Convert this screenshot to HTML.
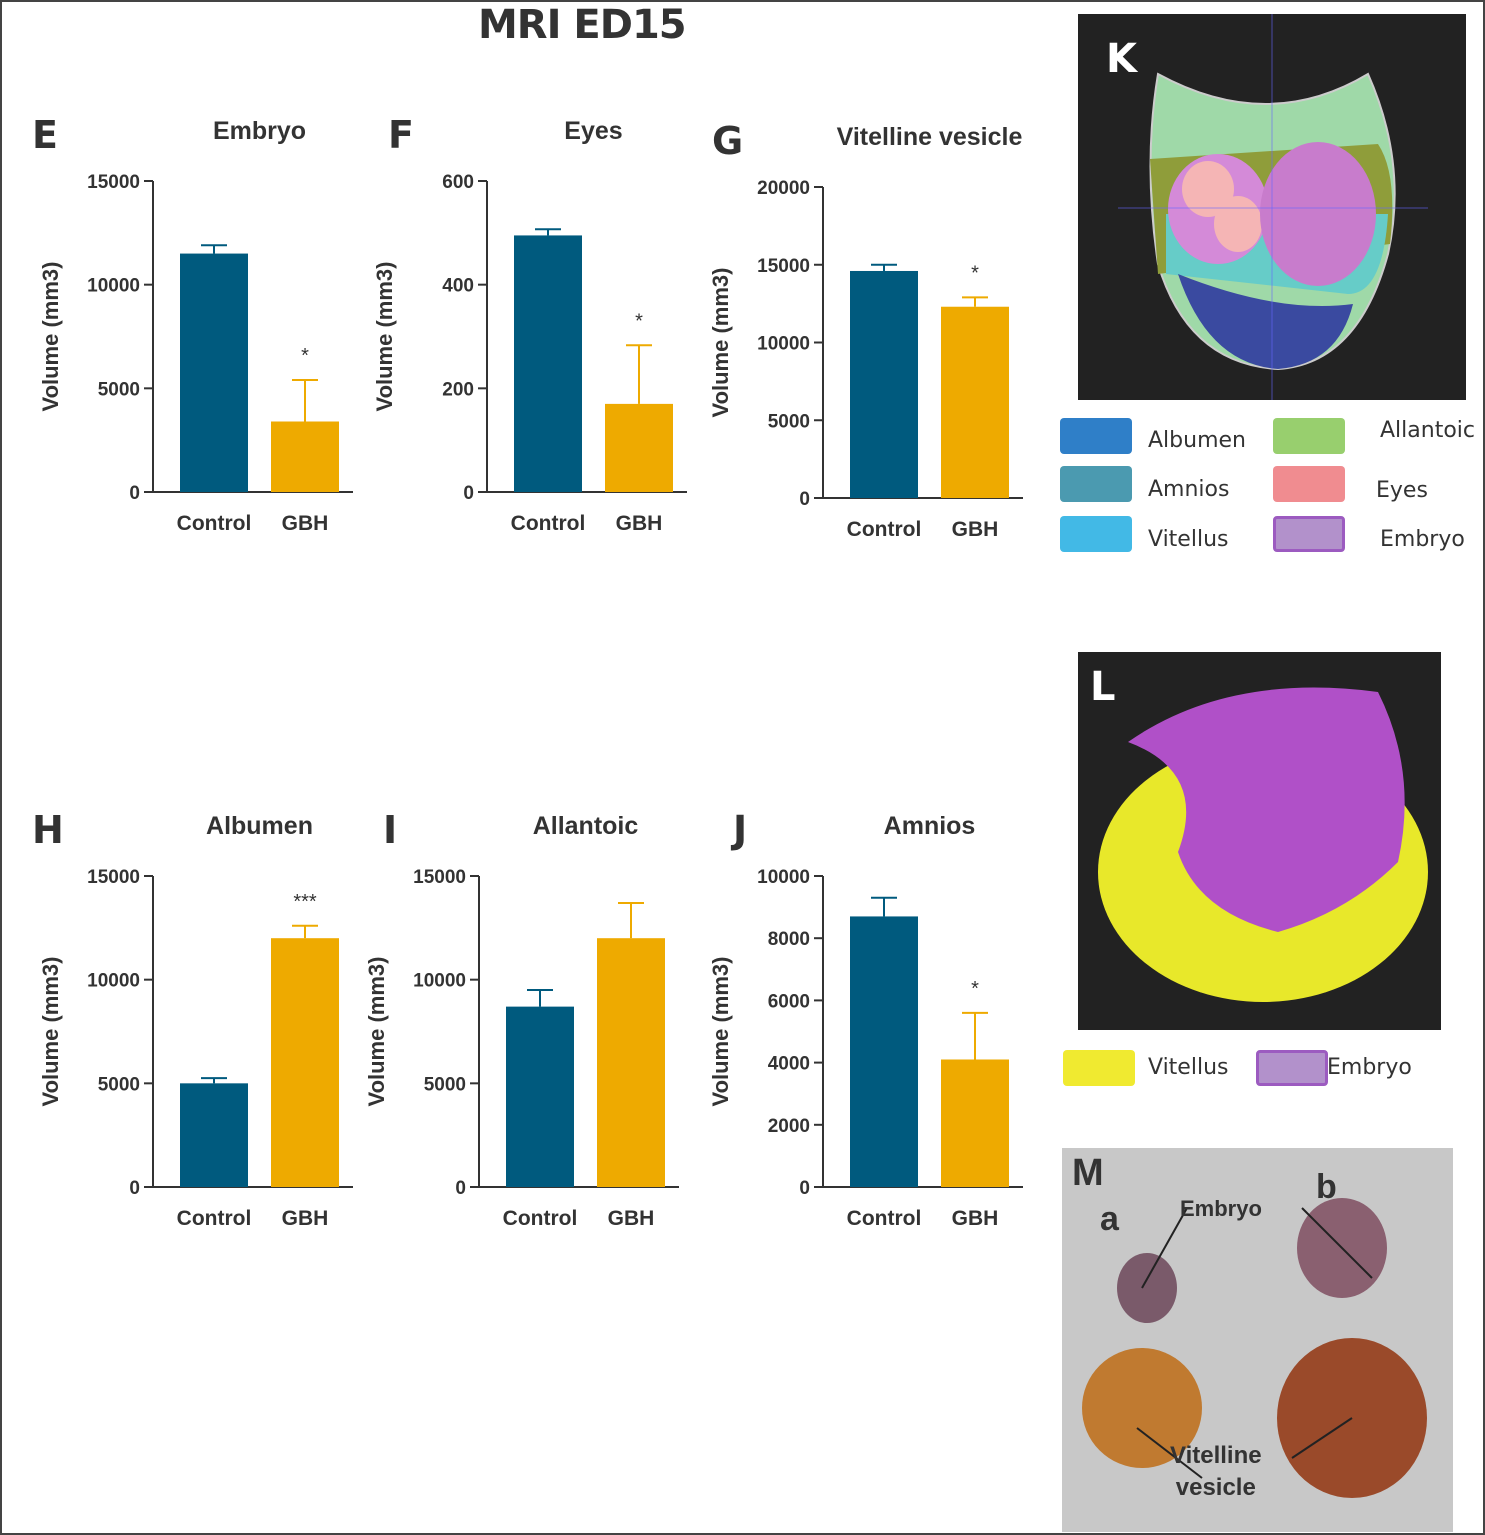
<!DOCTYPE html>
<html><head><meta charset="utf-8">
<style>
html,body{margin:0;padding:0;background:#fff;}
#root{position:relative;width:1485px;height:1535px;overflow:hidden;font-family:"Liberation Sans",sans-serif;background:#fff;}
.frame{position:absolute;left:0;top:0;width:1481px;height:1531px;border:2px solid #444;}
.t{position:absolute;white-space:nowrap;}
.leg{position:absolute;width:72px;height:36px;border-radius:4px;}
.legt{position:absolute;font-size:22px;color:#333;font-family:"DejaVu Sans",sans-serif;}
</style></head><body>
<div id="root">
<div class="frame"></div>
<div class="t" style="left:478px;top:2px;font-size:40px;font-weight:bold;color:#333;font-family:'DejaVu Sans',sans-serif;letter-spacing:-1px">MRI ED15</div>
<svg id="charts" width="1060" height="1535" style="position:absolute;left:0;top:0"></svg>

<!-- Panel K -->
<div style="position:absolute;left:1078px;top:14px;width:388px;height:386px;background:#222;">
<svg width="388" height="386">
<path d="M80 60 Q190 120 290 60 Q330 150 310 240 Q280 350 200 355 Q110 350 80 250 Q65 150 80 60Z" fill="#9fd9a8" stroke="#ccc" stroke-width="2"/>
<path d="M72 145 L300 130 Q320 160 312 230 L80 260 Z" fill="#8f9d3a"/>
<path d="M88 200 L310 200 Q305 280 270 280 L88 260Z" fill="#66ccc8"/>
<path d="M100 260 Q200 300 275 290 Q260 350 200 355 Q130 350 100 260Z" fill="#3a4aa0"/>
<ellipse cx="140" cy="195" rx="50" ry="55" fill="#d48ad8"/>
<ellipse cx="130" cy="175" rx="26" ry="28" fill="#f5b5b5"/>
<ellipse cx="160" cy="210" rx="24" ry="28" fill="#f5b5b5"/>
<ellipse cx="240" cy="200" rx="58" ry="72" fill="#c87ccc"/>
<line x1="194" y1="0" x2="194" y2="386" stroke="#66f" stroke-width="1" opacity=".6"/>
<line x1="40" y1="194" x2="350" y2="194" stroke="#66f" stroke-width="1" opacity=".6"/>
</svg>
<div class="t" style="left:28px;top:22px;font-size:40px;color:#fff;font-weight:bold;font-family:'DejaVu Sans',sans-serif">K</div>
</div>
<div class="leg" style="left:1060px;top:418px;background:#2f7fc8"></div>
<div class="legt" style="left:1148px;top:428px">Albumen</div>
<div class="leg" style="left:1060px;top:466px;background:#4b9ab0"></div>
<div class="legt" style="left:1148px;top:477px">Amnios</div>
<div class="leg" style="left:1060px;top:516px;background:#42b9e6"></div>
<div class="legt" style="left:1148px;top:527px">Vitellus</div>
<div class="leg" style="left:1273px;top:418px;background:#98cf6e"></div>
<div class="legt" style="left:1380px;top:418px">Allantoic</div>
<div class="leg" style="left:1273px;top:466px;background:#f08c90"></div>
<div class="legt" style="left:1376px;top:478px">Eyes</div>
<div class="leg" style="left:1273px;top:516px;background:#b291cb;border:3px solid #9c5bc0;width:66px;height:30px"></div>
<div class="legt" style="left:1380px;top:527px">Embryo</div>

<!-- Panel L -->
<div style="position:absolute;left:1078px;top:652px;width:363px;height:378px;background:#222;">
<svg width="363" height="378">
<ellipse cx="185" cy="220" rx="165" ry="130" fill="#e8e82a"/>
<path d="M50 90 Q150 20 300 40 Q340 120 320 210 Q270 260 200 280 Q120 260 100 200 Q130 120 50 90Z" fill="#b050c8"/>
</svg>
<div class="t" style="left:12px;top:12px;font-size:40px;color:#fff;font-weight:bold;font-family:'DejaVu Sans',sans-serif">L</div>
</div>
<div class="leg" style="left:1063px;top:1050px;background:#f0ea30"></div>
<div class="legt" style="left:1148px;top:1055px">Vitellus</div>
<div class="leg" style="left:1256px;top:1050px;background:#b291cb;border:3px solid #9c5bc0;width:66px;height:30px"></div>
<div class="legt" style="left:1327px;top:1055px">Embryo</div>

<!-- Panel M -->
<div style="position:absolute;left:1062px;top:1148px;width:391px;height:384px;background:#c8c8c8;">
<svg width="391" height="384">
<ellipse cx="85" cy="140" rx="30" ry="35" fill="#7a5a6a"/>
<ellipse cx="280" cy="100" rx="45" ry="50" fill="#8a6070"/>
<ellipse cx="80" cy="260" rx="60" ry="60" fill="#c07a30"/>
<ellipse cx="290" cy="270" rx="75" ry="80" fill="#9a4a2a"/>
<line x1="75" y1="280" x2="140" y2="330" stroke="#222" stroke-width="2"/>
<line x1="290" y1="270" x2="230" y2="310" stroke="#222" stroke-width="2"/>
<line x1="80" y1="140" x2="125" y2="60" stroke="#222" stroke-width="2"/>
<line x1="240" y1="60" x2="310" y2="130" stroke="#222" stroke-width="2"/>
</svg>
<div class="t" style="left:10px;top:4px;font-size:38px;font-weight:bold;color:#333">M</div>
<div class="t" style="left:38px;top:52px;font-size:34px;font-weight:bold;color:#333">a</div>
<div class="t" style="left:254px;top:20px;font-size:34px;font-weight:bold;color:#333">b</div>
<div class="t" style="left:118px;top:48px;font-size:22px;font-weight:bold;color:#333">Embryo</div>
<div class="t" style="left:108px;top:292px;font-size:24px;font-weight:bold;color:#333;text-align:center;line-height:32px">Vitelline<br>vesicle</div>
</div>
</div>
<script>
// Data arrays
const titles = ["Embryo","Eyes","Vitelline vesicle","Albumen","Allantoic","Amnios"];
const letters = ["E","F","G","H","I","J"];
const categories = ["Control","GBH"];
const controlValues = [11500, 495, 14600, 5000, 8700, 8700];
const controlErrors = [11900, 507, 15000, 5250, 9500, 9300];
const gbhValues = [3400, 170, 12300, 12000, 12000, 4100];
const gbhErrors = [5400, 283, 12900, 12600, 13700, 5600];
const yMax = [15000, 600, 20000, 15000, 15000, 10000];
const tickLabels = [
  [0,5000,10000,15000],[0,200,400,600],[0,5000,10000,15000,20000],
  [0,5000,10000,15000],[0,5000,10000,15000],[0,2000,4000,6000,8000,10000]];
const sigMarks = ["*","*","*","***","","*"];

const layout = [
  {ax:153,top:181,bot:492},{ax:487,top:181,bot:492},{ax:823,top:187,bot:498},
  {ax:153,top:876,bot:1187},{ax:479,top:876,bot:1187},{ax:823,top:876,bot:1187}];
const letterX = [32,388,712,32,383,733];
const NS="http://www.w3.org/2000/svg";
const svg=document.getElementById('charts');
function mk(tag,attrs,parent){const e=document.createElementNS(NS,tag);for(const k in attrs)e.setAttribute(k,attrs[k]);(parent||svg).appendChild(e);return e;}
const colors=["#005a7e","#eeaa00"];
for(let i=0;i<6;i++){
  const L=layout[i];
  const g=mk('g',{});
  
  
  const y=v=>L.bot-(v/yMax[i])*(L.bot-L.top);
  const x0=L.ax+27, bw=68, gap=23;
  const xs=[x0,x0+bw+gap];
  mk('line',{x1:L.ax,y1:L.top,x2:L.ax,y2:L.bot,stroke:'#333','stroke-width':2},g);
  mk('line',{x1:L.ax,y1:L.bot,x2:xs[1]+bw+14,y2:L.bot,stroke:'#333','stroke-width':2},g);
  tickLabels[i].forEach(t=>{
    mk('line',{x1:L.ax-9,y1:y(t),x2:L.ax,y2:y(t),stroke:'#333','stroke-width':2},g);
    const tx=mk('text',{x:L.ax-13,y:y(t)+7,'text-anchor':'end','font-size':19,fill:'#333','font-weight':'bold','font-family':'Liberation Sans'},g);
    tx.textContent=t;
    
    
  });
  const vals=[controlValues[i],gbhValues[i]], errs=[controlErrors[i],gbhErrors[i]];
  for(let j=0;j<2;j++){
    const cx=xs[j]+bw/2;
    const el=mk('line',{x1:cx,y1:y(errs[j]),x2:cx,y2:y(vals[j]),stroke:colors[j],'stroke-width':2},g);
    
    
    mk('line',{x1:cx-13,y1:y(errs[j]),x2:cx+13,y2:y(errs[j]),stroke:colors[j],'stroke-width':2},g);
    const r=mk('rect',{x:xs[j],y:y(vals[j]),width:bw,height:L.bot-y(vals[j]),fill:colors[j]},g);
    
    
    const c=mk('text',{x:cx,y:L.bot+38,'text-anchor':'middle','font-size':21,'font-weight':'bold',fill:'#333'},g);
    c.textContent=categories[j];
    
    
  }
  if(sigMarks[i]){
    const s=mk('text',{x:xs[1]+bw/2,y:y(gbhErrors[i])-18,'text-anchor':'middle','font-size':20,fill:'#333'},g);
    s.textContent=sigMarks[i];
    
    
  }
  const yl=mk('text',{x:0,y:0,transform:`translate(${L.ax-95},${(L.top+L.bot)/2}) rotate(-90)`,'text-anchor':'middle','font-size':22,'font-weight':'bold',fill:'#333'},g);
  yl.textContent='Volume (mm3)';
  
  
  const tt=mk('text',{x:xs[1]-gap/2,y:L.top-42,'text-anchor':'middle','font-size':25,'font-weight':'bold',fill:'#333'},g);
  tt.textContent=titles[i];
  
  
  const lt=mk('text',{x:letterX[i],y:L.top-33,'font-size':38,'font-weight':'bold',fill:'#333','font-family':'DejaVu Sans'},g);
  lt.textContent=letters[i];
  
  
}
</script>
</body></html>
